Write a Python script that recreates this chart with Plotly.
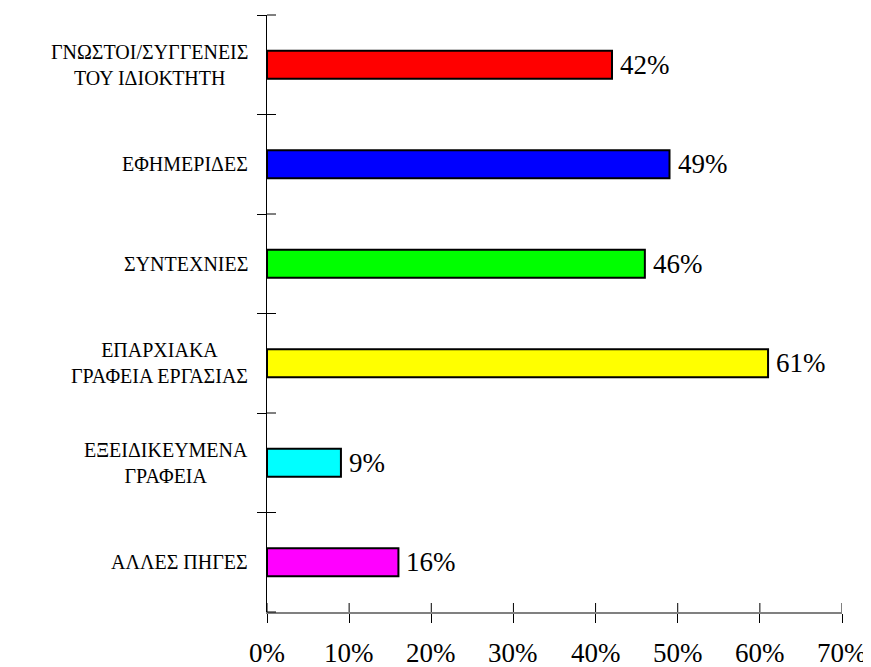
import plotly.graph_objects as go

categories = ["ΓΝΩΣΤΟΙ/ΣΥΓΓΕΝΕΙΣ<br>ΤΟΥ ΙΔΙΟΚΤΗΤΗ", "ΕΦΗΜΕΡΙΔΕΣ", "ΣΥΝΤΕΧΝΙΕΣ",
              "ΕΠΑΡΧΙΑΚΑ<br>ΓΡΑΦΕΙΑ ΕΡΓΑΣΙΑΣ", "ΕΞΕΙΔΙΚΕΥΜΕΝΑ<br>ΓΡΑΦΕΙΑ", "ΑΛΛΕΣ ΠΗΓΕΣ"]
values = [42, 49, 46, 61, 9, 16]
colors = ["#FF0000", "#0000FF", "#00FF00", "#FFFF00", "#00FFFF", "#FF00FF"]
x_ticks = [0, 10, 20, 30, 40, 50, 60, 70]
x_tick_labels = [f"{t}%" for t in x_ticks]

font_family = "Times New Roman"

fig = go.Figure(go.Bar(
    y=categories, x=values, orientation="h",
    marker=dict(color=colors, line=dict(color="black", width=2)),
    width=0.28,
    cliponaxis=False,
))

fig.update_layout(
    width=871, height=667,
    margin=dict(l=259, r=37, t=7, b=63, autoexpand=False),
    paper_bgcolor="white", plot_bgcolor="white",
    showlegend=False,
    xaxis=dict(range=[0, 70], tickvals=x_ticks, showticklabels=False,
               automargin=False,
               showgrid=False, zeroline=False, showline=True, linecolor="#808080",
               linewidth=2, ticks="outside", ticklen=9, tickcolor="black", tickwidth=1),
    yaxis=dict(autorange="reversed", type="category", tickson="boundaries",
               showticklabels=False, automargin=False,
               showgrid=False, zeroline=False, showline=True, linecolor="black",
               linewidth=1, ticks="outside", ticklen=9, tickcolor="black", tickwidth=1),
)

# category labels
for c in categories:
    fig.add_annotation(x=0, xref="paper", y=c, yref="y", text=c, showarrow=False,
                       xanchor="right", yanchor="middle", align="center", xshift=-17,
                       font=dict(family=font_family, size=20, color="black"))
# value labels
for c, v in zip(categories, values):
    fig.add_annotation(x=v, xref="x", y=c, yref="y", text=f"{v}%", showarrow=False,
                       xanchor="left", yanchor="middle", xshift=6,
                       font=dict(family=font_family, size=27, color="black"))
# x tick labels
for t, lab in zip(x_ticks, x_tick_labels):
    fig.add_annotation(x=t, xref="x", y=0, yref="paper", text=lab, showarrow=False,
                       xanchor="center", yanchor="top", yshift=-24,
                       font=dict(family=font_family, size=27, color="black"))

# inner half of crossing tick marks
for t in x_ticks:
    fig.add_shape(type="line", xref="x", yref="paper", xsizemode="scaled",
                  ysizemode="pixel", yanchor=0, x0=t, x1=t, y0=0, y1=9,
                  line=dict(color="black", width=1))
for i in range(len(categories) + 1):
    fig.add_shape(type="line", xref="paper", yref="paper", xsizemode="pixel",
                  xanchor=0, x0=0, x1=9, y0=i / len(categories), y1=i / len(categories),
                  line=dict(color="black", width=1))

fig.write_html("out.html")
